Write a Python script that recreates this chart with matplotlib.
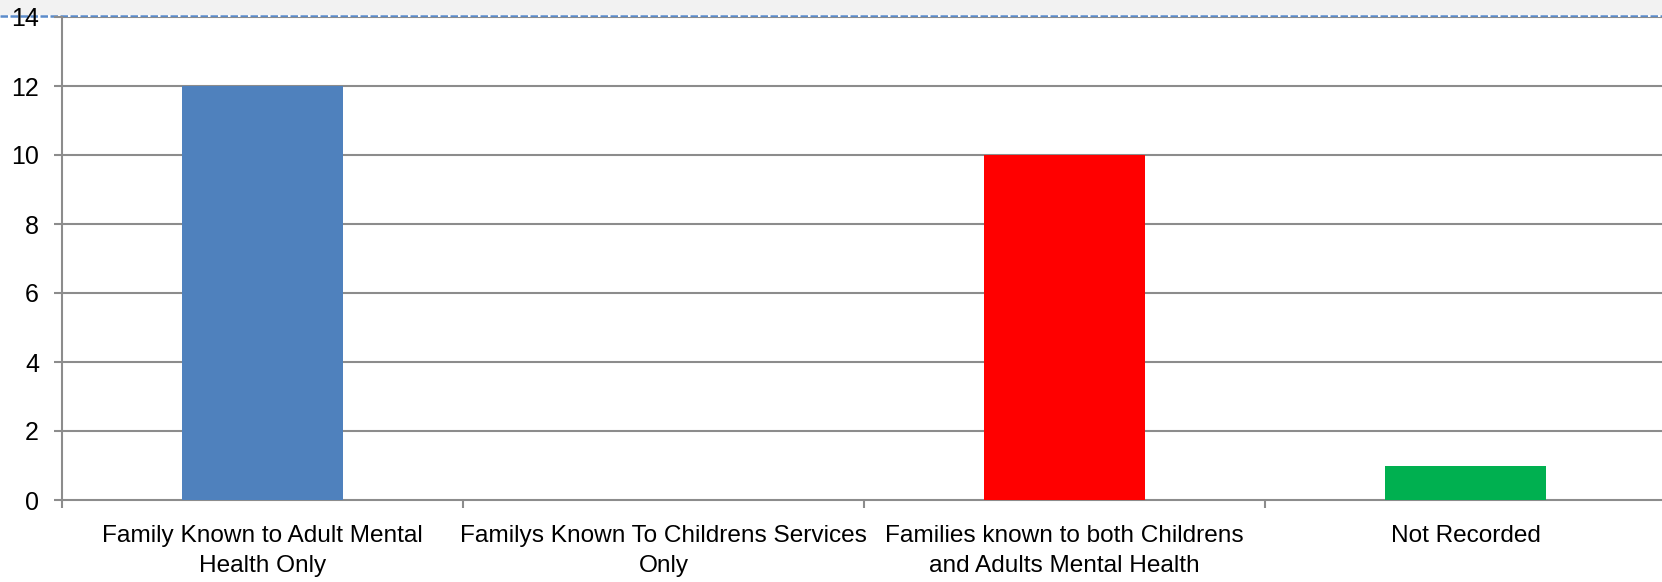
import matplotlib
matplotlib.use("Agg")
import matplotlib.pyplot as plt
from matplotlib.patches import Rectangle
from matplotlib.lines import Line2D

categories = ["Family Known to Adult Mental\nHealth Only",
              "Familys Known To Childrens Services\nOnly",
              "Families known to both Childrens\nand Adults Mental Health",
              "Not Recorded"]
values = [12, 0, 10, 1]
bar_colors = ["#4F81BD", "#4F81BD", "#FF0000", "#00B050"]
yticks = [0, 2, 4, 6, 8, 10, 12, 14]

W, H = 1662, 582
fig = plt.figure(figsize=(W / 100, H / 100), dpi=100, facecolor="white")
plt.rcParams['font.family'] = ['Liberation Sans', 'DejaVu Sans']

left = 62 / W
bottom = 1 - 500 / H
top = 1 - 17 / H
right = 1666 / W
ax = fig.add_axes([left, bottom, right - left, top - bottom])
ax.set_zorder(1)

grid_c = "#8C8C8C"
x = list(range(len(categories)))
ax.bar(x, values, width=0.4, color=bar_colors, zorder=3)

ax.set_xlim(-0.5, 3.5)
ax.set_ylim(0, 14)
ax.set_yticks(yticks)
ax.set_yticklabels([str(v) for v in yticks])
for v in yticks[1:]:
    ax.axhline(v, color=grid_c, lw=1.5, zorder=1)

ax.set_xticks(x)
ax.set_xticklabels(categories, linespacing=1.45)
ax.set_xticks([-0.5, 0.5, 1.5, 2.5], minor=True)
ax.tick_params(axis="x", which="major", length=0, pad=18, labelsize=17.6, colors="black")
ax.tick_params(axis="x", which="minor", length=6, width=1.5, color=grid_c)
ax.tick_params(axis="y", length=6, width=1.5, color=grid_c, pad=10.5, labelsize=18)

for s in ["top", "right"]:
    ax.spines[s].set_visible(False)
for s in ["left", "bottom"]:
    ax.spines[s].set_color(grid_c)
    ax.spines[s].set_linewidth(1.5)

# light band at top and dashed selection line
fig.patches.append(Rectangle((0, 1 - 15 / H), 1, 15 / H, transform=fig.transFigure,
                             facecolor="#F2F2F2", edgecolor="none", zorder=-2))
fig.lines.append(Line2D([0, 1], [1 - 15.5 / H, 1 - 15.5 / H], transform=fig.transFigure,
                        color="#5B8BC9", lw=1.8, linestyle=(0, (3, 1)), zorder=-1))

fig.savefig("out.png", dpi=100, facecolor="white")
